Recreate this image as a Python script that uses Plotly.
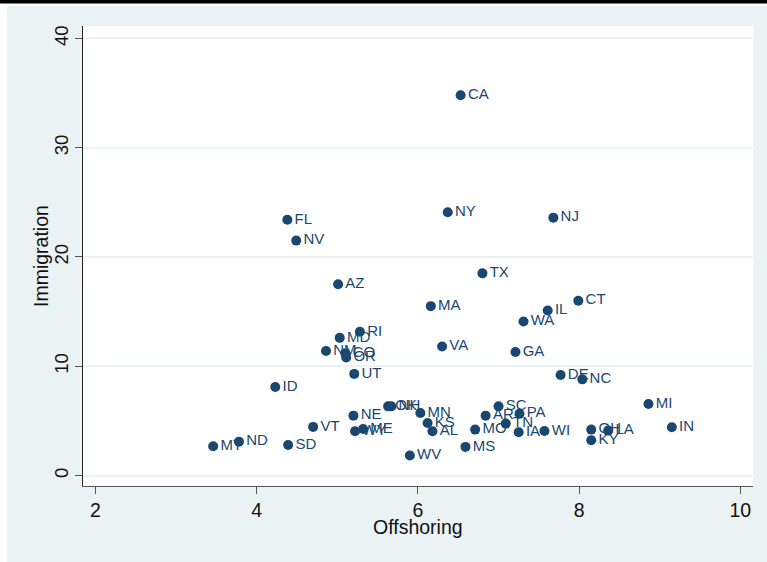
import plotly.graph_objects as go

states = ["CA", "FL", "NV", "NY", "NJ", "TX", "AZ", "MA", "IL", "CT", "WA", "RI",
          "MD", "NM", "CO", "OR", "VA", "GA", "UT", "ID", "DE", "NC", "MI", "IN",
          "OK", "NH", "NE", "MN", "KS", "AL", "WY", "ME", "VT", "MO", "MS", "WV",
          "SC", "AR", "PA", "TN", "IA", "WI", "OH", "LA", "KY", "MT", "ND", "SD"]
offshoring = [6.53, 4.38, 4.49, 6.37, 7.68, 6.80, 5.01, 6.16, 7.61, 7.99, 7.31, 5.28,
              5.03, 4.86, 5.10, 5.11, 6.30, 7.21, 5.21, 4.23, 7.77, 8.04, 8.86, 9.15,
              5.63, 5.67, 5.20, 6.03, 6.12, 6.18, 5.22, 5.32, 4.70, 6.71, 6.59, 5.90,
              7.00, 6.84, 7.26, 7.09, 7.25, 7.57, 8.15, 8.36, 8.15, 3.46, 3.78, 4.39]
immigration = [34.8, 23.4, 21.5, 24.1, 23.6, 18.5, 17.5, 15.5, 15.1, 16.0, 14.1, 13.15,
               12.6, 11.4, 11.2, 10.8, 11.8, 11.3, 9.3, 8.1, 9.2, 8.8, 6.55, 4.41,
               6.33, 6.33, 5.48, 5.72, 4.81, 4.05, 4.05, 4.26, 4.45, 4.20, 2.62, 1.83,
               6.33, 5.48, 5.66, 4.75, 3.96, 4.08, 4.2, 4.11, 3.22, 2.68, 3.1, 2.8]
x_ticks = [2, 4, 6, 8, 10]
y_ticks = [0, 10, 20, 30, 40]
x_title = "Offshoring"
y_title = "Immigration"

NAVY = "#1a476f"
BG = "#eaf2f3"
FONT = "Liberation Sans, Arial, sans-serif"

W, H = 767, 562
L, R, T, B = 83, 14, 26, 76
PW, PH = W - L - R, H - T - B


def px(x):
    return (x - L) / PW


def py(y):
    return (H - B - y) / PH


fig = go.Figure()
fig.add_trace(go.Scatter(
    x=offshoring, y=immigration, text=states,
    mode="markers+text", textposition="middle right",
    marker=dict(color=NAVY, size=10, line=dict(width=0)),
    textfont=dict(color=NAVY, size=15, family=FONT),
    cliponaxis=False, hoverinfo="text+x+y", showlegend=False,
))

shapes = [
    dict(type="rect", xref="paper", yref="paper", x0=px(0), x1=px(7), y0=py(H), y1=py(0),
         fillcolor="white", line=dict(width=0), layer="above"),
    dict(type="rect", xref="paper", yref="paper", x0=px(0), x1=px(W), y0=py(6), y1=py(0),
         fillcolor="white", line=dict(width=0), layer="above"),
    dict(type="rect", xref="paper", yref="paper", x0=px(0), x1=px(W), y0=py(3.5), y1=py(0),
         fillcolor="black", line=dict(width=0), layer="above"),
]

annotations = [
    dict(text=x_title, xref="paper", yref="paper", x=0.5, y=py(527),
         xanchor="center", yanchor="middle", showarrow=False,
         font=dict(size=19.5, family=FONT, color="#111111")),
    dict(text=y_title, xref="paper", yref="paper", x=px(41), y=py(256),
         xanchor="center", yanchor="middle", showarrow=False, textangle=-90,
         font=dict(size=19.5, family=FONT, color="#111111")),
]

fig.update_layout(
    width=W, height=H,
    margin=dict(l=L, r=R, t=T, b=B, pad=0),
    paper_bgcolor=BG, plot_bgcolor="white",
    font=dict(family=FONT, color="#111111", size=19.5),
    shapes=shapes, annotations=annotations,
    xaxis=dict(
        range=[1.845, 10.157], tickvals=x_ticks, ticktext=[str(v) for v in x_ticks],
        showgrid=False, zeroline=False, showline=True, linecolor="#555555", linewidth=1,
        ticks="outside", ticklen=7, tickcolor="#555555", tickfont=dict(size=19.5),
    ),
    yaxis=dict(
        range=[-0.96, 41.14], tickvals=y_ticks, ticktext=[str(v) for v in y_ticks],
        showgrid=True, gridcolor=BG, gridwidth=1.5, zeroline=False,
        showline=True, linecolor="#222222", linewidth=1,
        ticks="outside", ticklen=7, tickcolor="#555555", tickangle=-90,
        tickfont=dict(size=18.5),
    ),
)

fig.write_html(
    "out.html",
    config={"displayModeBar": False},
    post_script="document.body.style.margin='0';document.body.style.padding='0';"
                "document.documentElement.style.overflow='hidden';",
)
